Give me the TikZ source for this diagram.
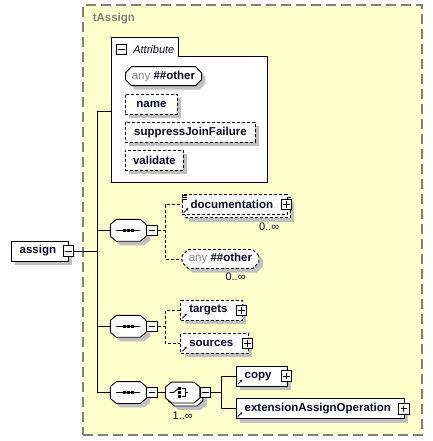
\documentclass[tikz,border=0pt]{standalone}
\usepackage{fontspec}
\setmainfont{Liberation Sans}
\usetikzlibrary{arrows.meta,shapes.misc,shadows,positioning}
\definecolor{schema-yellow}{RGB}{255,255,204}
\definecolor{schema-gray}{RGB}{128,128,128}
\definecolor{shadow-gray}{RGB}{192,192,192}
\definecolor{schema-ink}{RGB}{10,10,40}

\begin{document}
\begin{tikzpicture}
    [x=1pt, y=-1pt,
    node distance=28pt,
    on grid,
    line width=0.9pt,
    font=\fontsize{11.5}{13}\selectfont\bfseries,
    text=schema-ink,
    type box/.style = {draw=schema-gray, fill=schema-yellow, line width=1.3pt, dash pattern=on 10pt off 5pt,
      minimum width=339pt, minimum height=430pt},
    shade/.style = {drop shadow={shadow xshift=4pt, shadow yshift=-4pt, fill=shadow-gray, opacity=1}},
    multi/.style = {drop shadow={shadow xshift=7pt, shadow yshift=-7pt, fill=shadow-gray, opacity=1},
      copy shadow={shadow xshift=3pt, shadow yshift=-3pt, #1}},
    elem/.style = {draw, fill=white, shade, minimum height=20pt, inner xsep=8.5pt, inner ysep=0pt, align=left},
    opt elem/.style = {elem, dash pattern=on 3pt off 2pt},
    attr/.style = {draw, fill=white, shade, dash pattern=on 3pt off 2pt, minimum height=20pt, inner sep=0pt},
    wild/.style = {chamfered rectangle, chamfered rectangle xsep=3pt, chamfered rectangle ysep=3pt,
      draw, fill=white, shade, minimum height=19pt, inner sep=0pt},
    seq/.style = {minimum width=35pt, minimum height=21pt, inner sep=0pt},
    octagon/.style = {draw, fill=white, shade, insert path={([xshift=6pt]#1.north west) -- ([xshift=-6pt]#1.north east)
      -- ([yshift=-5pt]#1.north east) -- ([yshift=5pt]#1.south east) -- ([xshift=-6pt]#1.south east)
      -- ([xshift=6pt]#1.south west) -- ([yshift=5pt]#1.south west) -- ([yshift=-5pt]#1.north west) -- cycle}},
    pm/.style = {draw, fill=white, minimum size=10.5pt, inner sep=0pt, line width=1pt},
    minus/.style = {pm, path picture={\draw [line width=0.9pt] ([xshift=2pt]path picture bounding box.west)
      -- ([xshift=-2pt]path picture bounding box.east);}},
    plus/.style = {pm, path picture={\draw [line width=0.9pt] ([xshift=2pt]path picture bounding box.west)
      -- ([xshift=-2pt]path picture bounding box.east) ([yshift=-2pt]path picture bounding box.north)
      -- ([yshift=2pt]path picture bounding box.south);}},
    conn/.style = {line width=0.9pt},
    opt conn/.style = {conn, dash pattern=on 3pt off 2pt},
    mult/.style = {font=\fontsize{11}{12}\selectfont, inner sep=0pt},
    ref/.style = {-{Stealth[length=2.5pt, width=2.5pt]}, line width=0.7pt}]

    \useasboundingbox (0,0) rectangle (432,441);

    \node [type box] (tAssign) at (252.5,220) {};
    \node [anchor=west, text=schema-gray] (tAssign label) at (89,19) {tAssign};

    % attribute group
    \node [minimum width=155pt, minimum height=125pt, inner sep=0pt] (attrs) at (189.5,119.5) {};
    \draw [fill=white] (attrs.south west) -- ([yshift=19pt]attrs.north west) -- ([xshift=67pt, yshift=19pt]attrs.north west)
      -- ([xshift=67pt]attrs.north west) -- (attrs.north east) -- (attrs.south east) -- cycle;
    \node [minus] (attrs minus) at (121.3,49.5) {};
    \node [anchor=west, font=\fontsize{11}{12}\selectfont\itshape] (attrs label) at ([xshift=2.5pt]attrs minus.east) {Attribute};

    \node [wild, anchor=west, minimum width=76pt] (any attr) at (125,76.2)
      {{\mdseries\color{schema-gray}any} \#\#other};
    \node [attr, minimum width=52pt] (name) [below=28pt of any attr.west, anchor=west] {name};
    \node [attr, minimum width=130pt] (suppressJoinFailure) [below=28pt of name.west, anchor=west] {suppressJoinFailure};
    \node [attr, minimum width=58pt] (validate) [below=28pt of suppressJoinFailure.west, anchor=west] {validate};

    \node [elem, text width=40pt, anchor=west] (assign) at (10.7,251) {assign};
    \node [minus] (assign minus) at (assign.east) {};

    % compositors
    \node [seq] (seq1) at (128.3,230.3) {};
    \node [seq] (seq2) [below=96pt of seq1] {};
    \node [seq] (seq3) [below=66.2pt of seq2] {};
    \node [seq, minimum width=33.5pt, minimum height=20pt] (choice) [right=54.4pt of seq3] {};
    \path [octagon=choice, multi={draw}];
    \foreach \s in {seq1,seq2,seq3} {
      \path [octagon=\s];
      \draw [conn] ([xshift=-12pt]\s.center) -- ([xshift=12pt]\s.center);
      \foreach \d in {-4,0,4}
        \fill ([xshift=\d pt]\s.center) +(-1.5,-1.5) rectangle +(1.5,1.5);
    }
    \foreach \s in {seq1,seq2,seq3,choice}
      \node [minus, anchor=west] (\s\space minus) at (\s.east) {};

    \draw [conn] ([xshift=-13pt]choice.center) -- ++(4pt,0) -- ++(4.5pt,4pt);
    \foreach \d in {-4,0,4}
      \fill ([shift={(-3pt,\d pt)}]choice.center) +(-1.3,-1.3) rectangle +(1.3,1.3);
    \draw [conn] ([shift={(-0.5pt,4pt)}]choice.center) -- ++(3pt,0) -- ++(0,-8pt) -- ++(-3pt,0)
      ([xshift=2.5pt]choice.center) -- ++(3pt,0);

    % elements
    \node [opt elem, multi={dash pattern=on 3pt off 2pt}, text width=88pt, anchor=west] (doc) at (181.7,204.7) {documentation};
    \node [wild, dash pattern=on 3pt off 2pt, minimum width=76.6pt] (any elem) [below=54.3pt of doc.west, anchor=west]
      {{\mdseries\color{schema-gray}any} \#\#other};
    \node [opt elem, text width=44.4pt, anchor=west] (targets) at (180.3,310.3) {targets};
    \node [opt elem, text width=50.4pt] (sources) [below=33pt of targets.west, anchor=west] {sources};
    \node [elem, text width=34pt, anchor=west] (copy) at (235.7,376.2) {copy};
    \node [elem, text width=151.3pt] (ext) [below=32.6pt of copy.west, anchor=west] {extensionAssignOperation};

    \foreach \n in {doc,targets,sources,copy,ext} {
      \node [plus] (\n\space plus) at ([xshift=-1pt]\n.east) {};
      \draw [ref] ([shift={(2pt,2.5pt)}]\n.south west) -- ++(4.5pt,4.5pt);
    }
    \foreach \l in {1.5,3.5,5.5}
      \draw [line width=0.6pt] ([shift={(0.5pt,-\l pt)}]doc.north west) -- ++(5pt,0);

    \node [mult, anchor=north east] (doc mult) at ([xshift=-8pt, yshift=-7pt]doc.south east) {0..∞};
    \node [mult, anchor=north east] (any mult) at ([xshift=-10pt, yshift=-6.5pt]any elem.south east) {0..∞};
    \node [mult, anchor=north] (choice mult) at ([yshift=-9pt]choice.south) {1..∞};

    % connectors
    \coordinate (trunk top) at (97,111);
    \draw [conn] (attrs.west |- trunk top) -- (trunk top) |- (seq3);
    \draw [conn] (assign minus) -- (assign minus -| trunk top);
    \draw [conn] (seq1) -- (seq1 -| trunk top);
    \draw [conn] (seq2) -- (seq2 -| trunk top);

    \coordinate (seq1 fork) at (165,230.3);
    \draw [opt conn] (seq1 minus) -- (seq1 fork) |- (doc);
    \draw [opt conn] (seq1 fork) |- (any elem);
    \coordinate (seq2 fork) at (165,326.3);
    \draw [opt conn] (seq2 minus) -- (seq2 fork) |- (targets);
    \draw [opt conn] (seq2 fork) |- (sources);
    \draw [conn] (seq3 minus) -- (choice);
    \coordinate (choice fork) at (221,392.5);
    \draw [conn] (choice minus) -- (choice fork) |- (copy);
    \draw [conn] (choice fork) |- (ext);
  \end{tikzpicture}
\end{document}
